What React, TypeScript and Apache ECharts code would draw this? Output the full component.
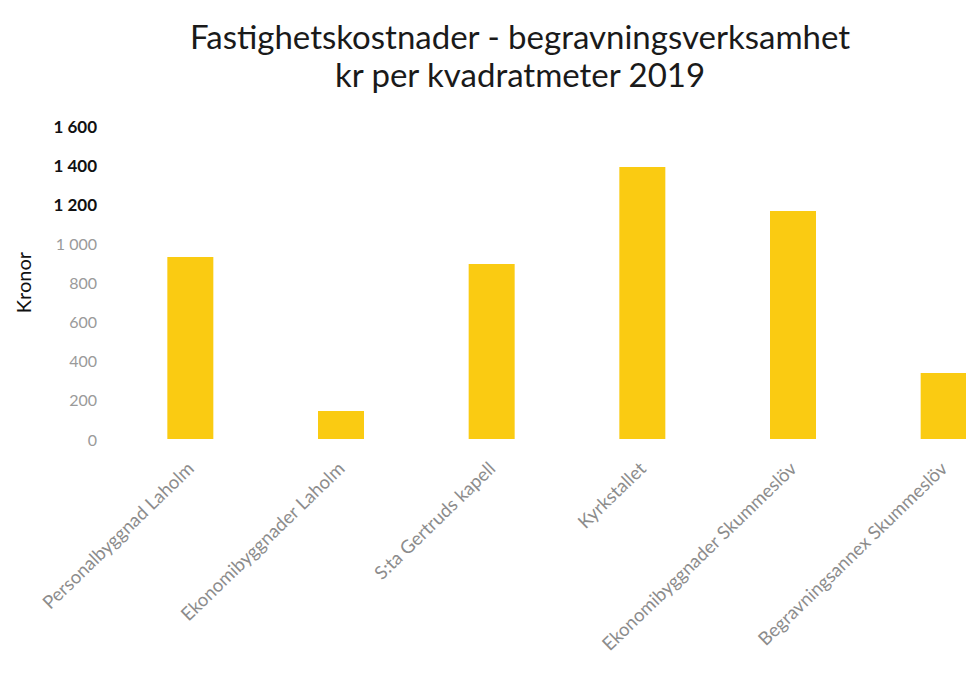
import React, { useEffect, useRef } from "react";
import * as echarts from "echarts";

const titleLines = ["Fastighetskostnader - begravningsverksamhet", "kr per kvadratmeter 2019"];
const categories = [
  "Personalbyggnad Laholm",
  "Ekonomibyggnader Laholm",
  "S:ta Gertruds kapell",
  "Kyrkstallet",
  "Ekonomibyggnader Skummeslöv",
  "Begravningsannex Skummeslöv",
];
const values = [930, 143, 895, 1390, 1165, 337];
const yAxisName = "Kronor";
const yMin = 0;
const yMax = 1600;
const yStep = 200;
const boldFrom = 1200;

const fmt = (v: number) => String(v).replace(/\B(?=(\d{3})+(?!\d))/g, " ");

export default function App() {
  const ref = useRef<HTMLDivElement>(null);
  useEffect(() => {
    if (!ref.current) return;
    document.body.style.margin = "0";
    document.body.style.overflow = "hidden";
    const chart = echarts.init(ref.current, undefined, { renderer: "svg" });
    const font = "Lato, 'Open Sans', sans-serif";
    chart.setOption({
      animation: false,
      backgroundColor: "#ffffff",
      title: {
        text: titleLines.join("\n"),
        left: 515,
        textAlign: "center",
        top: 12,
        textStyle: {
          fontFamily: font,
          fontSize: 33,
          fontWeight: "normal",
          color: "#1a1a1a",
          lineHeight: 38,
        },
      },
      grid: { left: 115, top: 126, width: 904, height: 313, containLabel: false },
      xAxis: {
        type: "category",
        data: categories,
        axisLine: { show: false },
        axisTick: { show: false },
        axisLabel: {
          rotate: 44,
          interval: 0,
          margin: 26,
          fontFamily: font,
          fontSize: 18.5,
          color: "#8c8c8c",
        },
      },
      yAxis: {
        type: "value",
        min: yMin,
        max: yMax,
        interval: yStep,
        name: yAxisName,
        nameLocation: "middle",
        nameRotate: 90,
        nameGap: 82,
        nameTextStyle: { fontFamily: font, fontSize: 20, color: "#111" },
        splitLine: { show: false },
        axisLine: { show: false },
        axisTick: { show: false },
        axisLabel: {
          margin: 18,
          fontFamily: font,
          formatter: (v: number) => (v >= boldFrom ? `{b|${fmt(v)}}` : `{g|${fmt(v)}}`),
          rich: {
            b: { fontFamily: font, fontSize: 17, fontWeight: "bold", color: "#111" },
            g: { fontFamily: font, fontSize: 16, color: "#9a9a9a" },
          },
        },
      },
      series: [
        {
          type: "bar",
          data: values,
          barWidth: 46,
          itemStyle: { color: "#FACB12" },
        },
      ],
    });
    return () => chart.dispose();
  }, []);
  return (
    <div style={{ position: "fixed", left: 0, top: 0, width: 966, height: 681, overflow: "hidden", background: "#fff" }}>
      <div ref={ref} style={{ position: "absolute", left: 0, top: 0, width: 1040, height: 681 }} />
    </div>
  );
}
